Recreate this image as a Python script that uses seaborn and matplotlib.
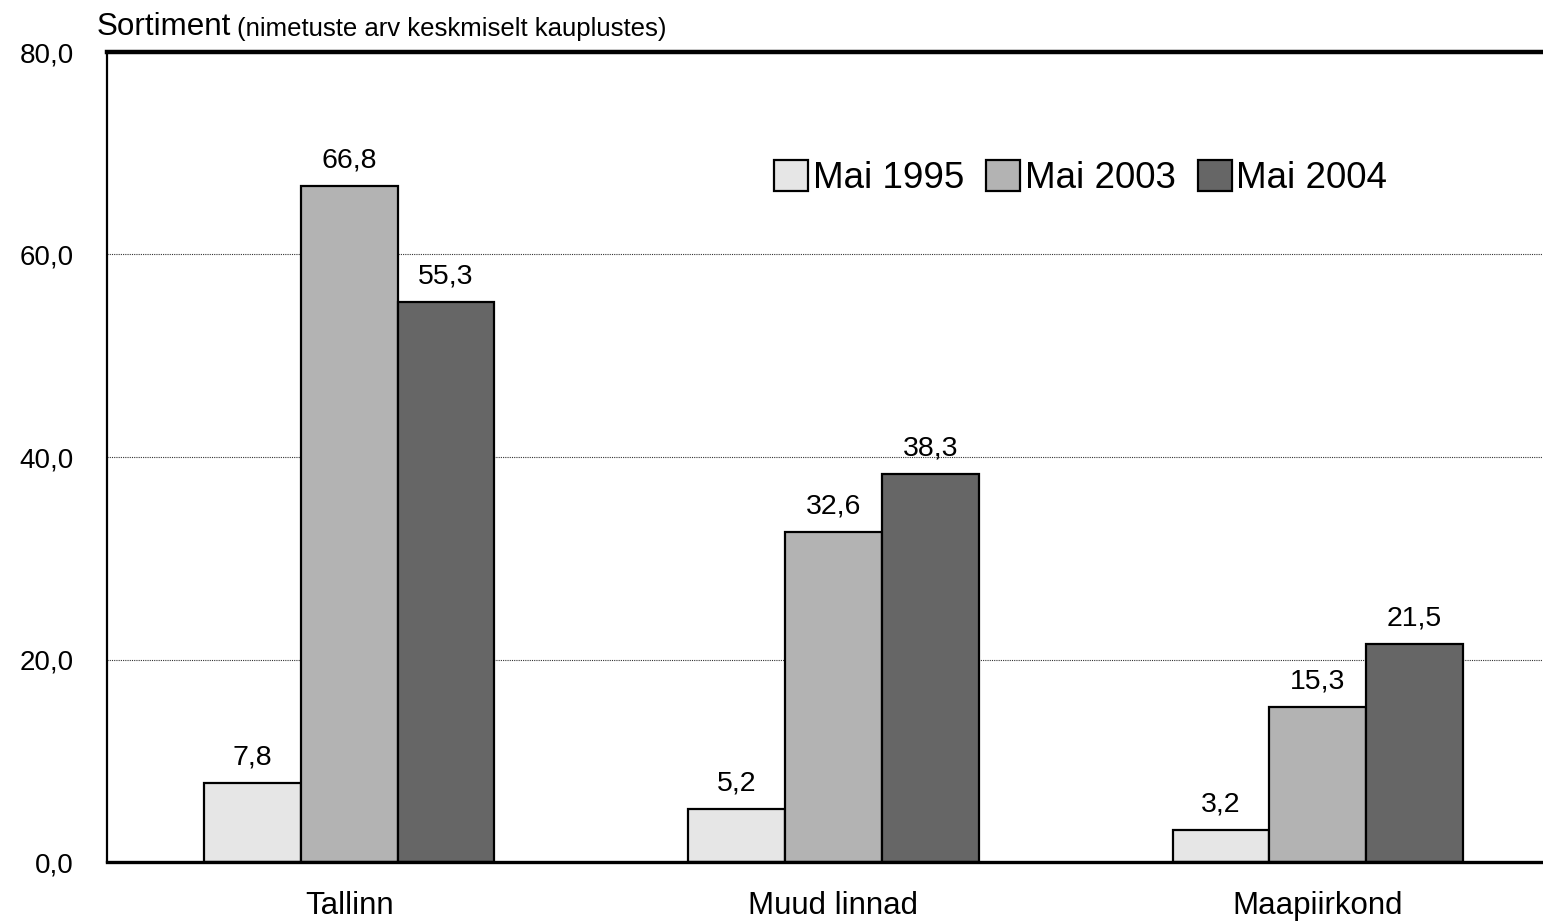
import matplotlib
matplotlib.use("Agg")
import matplotlib.pyplot as plt
import seaborn as sns
import pandas as pd

# data
categories = ["Tallinn", "Muud linnad", "Maapiirkond"]
series = ["Mai 1995", "Mai 2003", "Mai 2004"]
mai_1995 = [7.8, 5.2, 3.2]
mai_2003 = [66.8, 32.6, 15.3]
mai_2004 = [55.3, 38.3, 21.5]
y_ticks = [0, 20, 40, 60, 80]

colors = ["#e6e6e6", "#b3b3b3", "#666666"]

rows = []
for name, vals in zip(series, [mai_1995, mai_2003, mai_2004]):
    for cat, v in zip(categories, vals):
        rows.append({"ala": cat, "aeg": name, "arv": v})
df = pd.DataFrame(rows)

sns.set_theme(style="white")
plt.rcParams["font.family"] = ["Liberation Sans", "DejaVu Sans"]
plt.rcParams["text.color"] = "black"
plt.rcParams["xtick.color"] = "black"
plt.rcParams["ytick.color"] = "black"

fig = plt.figure(figsize=(15.43, 9.22), dpi=100)
ax = fig.add_axes([107 / 1543, 60 / 922, 1453 / 1543, 810 / 922])

sns.barplot(data=df, x="ala", y="arv", hue="aeg", palette=colors,
            width=0.6, gap=0, edgecolor="black", linewidth=1.6,
            saturation=1, ax=ax, legend=True)

for cont in ax.containers:
    labels = [f"{b.get_height():.1f}".replace(".", ",") for b in cont]
    ax.bar_label(cont, labels=labels, padding=9, fontsize=20.5, color="black")

ax.set_xlim(-0.5, 2.5)
ax.set_ylim(0, 80)
ax.set_yticks(y_ticks)
ax.set_yticklabels([f"{t:.1f}".replace(".", ",") for t in y_ticks], fontsize=20)
ax.tick_params(axis="y", length=0, pad=24)
ax.tick_params(axis="x", length=0, pad=21, labelsize=22.5)
ax.set_xlabel("")
ax.set_ylabel("")

ax.yaxis.grid(True, color="#333333", linestyle=(0, (1, 1)), linewidth=0.8)
ax.set_axisbelow(True)

ax.spines["right"].set_visible(False)
ax.spines["left"].set_linewidth(1.6)
ax.spines["top"].set_linewidth(3.2)
ax.spines["bottom"].set_linewidth(2.4)
for s in ["left", "top", "bottom"]:
    ax.spines[s].set_color("black")

handles, lbls = ax.get_legend_handles_labels()
ax.legend(handles, lbls, loc="center left", ncol=3, frameon=False,
          bbox_to_anchor=(774 / 1543, 1 - 178 / 922),
          bbox_transform=fig.transFigure, fontsize=26.5,
          handlelength=0.93, handleheight=0.93, handletextpad=0.12,
          columnspacing=0.6, borderpad=0, borderaxespad=0)

fig.text(97 / 1543, 1 - 27 / 922, "Sortiment", fontsize=22.6, va="center", ha="left")
fig.text(237 / 1543, 1 - 29 / 922, "(nimetuste arv keskmiselt kauplustes)",
         fontsize=18.5, va="center", ha="left")

fig.savefig("out.png", dpi=100, facecolor="white")
